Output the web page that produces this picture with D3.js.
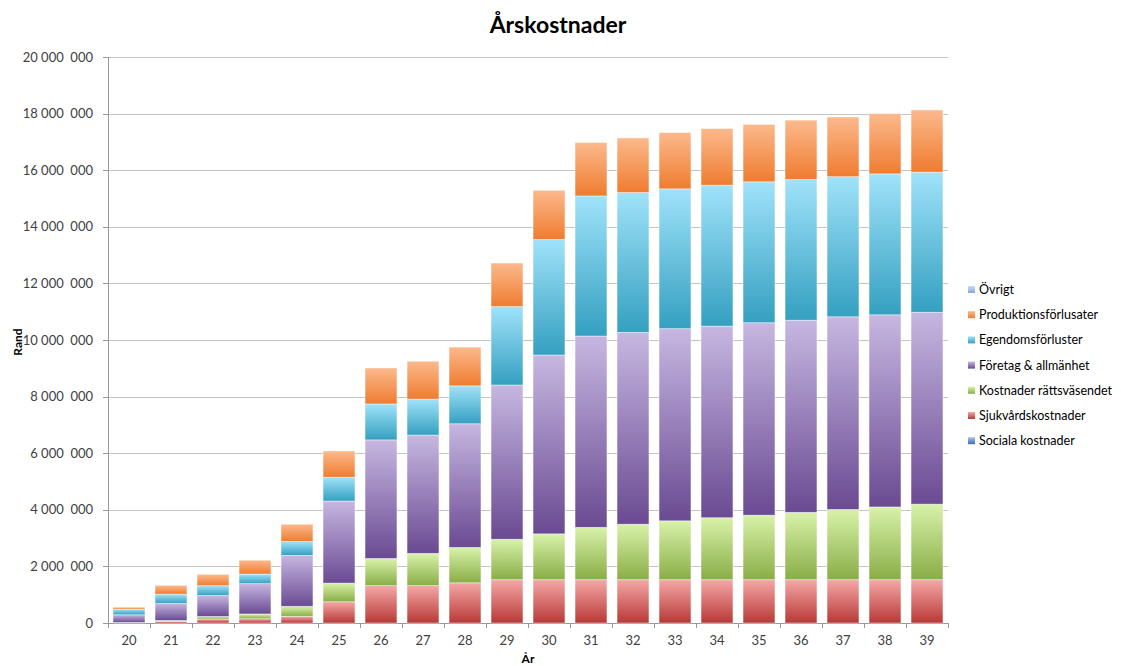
<!DOCTYPE html>
<html>
<head>
<meta charset="utf-8">
<script src="https://cdn.jsdelivr.net/npm/d3@7"></script>
<style>
  body { margin: 0; background: #fff; }
  svg { font-family: Lato, "Open Sans", sans-serif; }
</style>
</head>
<body>
<svg id="chart" width="1121" height="666"></svg>
<script>
// years on the x axis
var years = ["20","21","22","23","24","25","26","27","28","29","30","31","32","33","34","35","36","37","38","39"];

// series values (SEK)
var sociala    = [0,0,0,0,0,0,0,0,0,0,0,0,0,0,0,0,0,0,0,0];
var sjukvard   = [20000,60000,140000,150000,235000,750000,1320000,1320000,1420000,1530000,1530000,1530000,1530000,1530000,1530000,1530000,1530000,1530000,1530000,1530000];
var rattsvasen = [0,30000,90000,170000,355000,660000,960000,1140000,1250000,1430000,1620000,1850000,1960000,2080000,2190000,2280000,2380000,2480000,2570000,2670000];
var foretag    = [270000,600000,740000,1070000,1800000,2900000,4190000,4180000,4370000,5450000,6320000,6760000,6780000,6790000,6770000,6800000,6790000,6810000,6790000,6780000];
var egendom    = [200000,330000,350000,340000,490000,840000,1270000,1270000,1340000,2770000,4080000,4950000,4940000,4940000,4980000,4980000,4970000,4950000,4980000,4950000];
var produktion = [70000,310000,400000,490000,610000,930000,1270000,1340000,1370000,1540000,1740000,1890000,1930000,1990000,2000000,2030000,2100000,2110000,2130000,2200000];
var ovrigt     = [0,0,0,0,0,0,0,0,0,0,0,0,0,0,0,0,0,0,0,0];

var seriesNames = ["Sociala kostnader", "Sjukvårdskostnader", "Kostnader rättsväsendet",
                   "Företag & allmänhet", "Egendomsförluster", "Produktionsförlusater", "Övrigt"];
var seriesValues = [sociala, sjukvard, rattsvasen, foretag, egendom, produktion, ovrigt];

// gradient colours per series: [top, bottom]
var gradColors = [
    ["#a9c4ef", "#3d6db2"],
    ["#f5a8a6", "#b73936"],
    ["#d8f2a9", "#89ad46"],
    ["#c6b7e1", "#6a4a92"],
    ["#a0e2fa", "#34a0c0"],
    ["#fcb98c", "#ef7c30"],
    ["#cddcf5", "#86a8da"]
];

var yTicks = [0, 2e6, 4e6, 6e6, 8e6, 10e6, 12e6, 14e6, 16e6, 18e6, 20e6];

var svg = d3.select("#chart");
var marge = { top: 57, bottom: 43, left: 108, right: 173 };
var width = 1121, height = 666;

// build table for d3.stack
var table = years.map(function (y, i) {
    var row = { year: y };
    seriesNames.forEach(function (n, k) { row[n] = seriesValues[k][i]; });
    return row;
});
var stacked = d3.stack().keys(seriesNames)(table);

var x = d3.scaleBand()
    .domain(years)
    .range([marge.left, width - marge.right])
    .paddingInner(0.24)
    .paddingOuter(0.12);

var y = d3.scaleLinear()
    .domain([0, 20e6])
    .range([height - marge.bottom, marge.top]);

// gradients
var defs = svg.append("defs");
gradColors.forEach(function (c, k) {
    var gr = defs.append("linearGradient")
        .attr("id", "grad" + k)
        .attr("x1", 0).attr("y1", 0).attr("x2", 0).attr("y2", 1);
    gr.append("stop").attr("offset", "0%").attr("stop-color", c[0]);
    gr.append("stop").attr("offset", "100%").attr("stop-color", c[1]);
});

// title
svg.append("text")
    .attr("x", 558).attr("y", 33)
    .attr("text-anchor", "middle")
    .style("font-size", "23px").style("font-weight", "bold").style("fill", "#000")
    .text("Årskostnader");

// gridlines
svg.append("g").selectAll("line")
    .data(yTicks.slice(1))
    .enter().append("line")
    .attr("x1", marge.left).attr("x2", width - marge.right)
    .attr("y1", function (d) { return Math.round(y(d)) + 0.5; })
    .attr("y2", function (d) { return Math.round(y(d)) + 0.5; })
    .style("stroke", "#c4c4c4").style("stroke-width", "1px");

// y tick format "20 000  000"
function fmt(v) {
    if (v === 0) return "0";
    var s = d3.format(",")(v).split(",");
    var last = s.pop();
    return s.join("\u00a0") + "\u00a0\u00a0" + last;
}

var yAxis = svg.append("g");
yAxis.append("line")
    .attr("x1", marge.left + 0.5).attr("x2", marge.left + 0.5)
    .attr("y1", marge.top).attr("y2", height - marge.bottom)
    .style("stroke", "#999");
yAxis.selectAll(".tk")
    .data(yTicks)
    .enter().append("line")
    .attr("x1", marge.left - 5).attr("x2", marge.left)
    .attr("y1", function (d) { return Math.round(y(d)) + 0.5; })
    .attr("y2", function (d) { return Math.round(y(d)) + 0.5; })
    .style("stroke", "#999");
yAxis.selectAll("text")
    .data(yTicks)
    .enter().append("text")
    .attr("x", marge.left - 15)
    .attr("y", function (d) { return y(d) + 4.5; })
    .attr("text-anchor", "end")
    .style("font-size", "13px").style("fill", "#404040")
    .text(fmt);

// x axis
var xAxis = svg.append("g");
var x0 = x.range()[0];
xAxis.append("line")
    .attr("x1", marge.left).attr("x2", width - marge.right)
    .attr("y1", y(0) + 0.5).attr("y2", y(0) + 0.5)
    .style("stroke", "#999");
xAxis.selectAll(".tk")
    .data(d3.range(years.length + 1))
    .enter().append("line")
    .attr("x1", function (i) { return Math.round(x0 + i * x.step()) + 0.5; })
    .attr("x2", function (i) { return Math.round(x0 + i * x.step()) + 0.5; })
    .attr("y1", y(0)).attr("y2", y(0) + 5)
    .style("stroke", "#999");
xAxis.selectAll("text")
    .data(years)
    .enter().append("text")
    .attr("x", function (d) { return x(d) + x.bandwidth() / 2; })
    .attr("y", y(0) + 22)
    .attr("text-anchor", "middle")
    .style("font-size", "13px").style("fill", "#404040")
    .text(function (d) { return d; });

// bars
svg.append("g").selectAll("g")
    .data(stacked)
    .enter().append("g")
    .attr("fill", function (d, k) { return "url(#grad" + k + ")"; })
    .selectAll("rect")
    .data(function (d) { return d.filter(function (p) { return p[1] - p[0] > 0; }); })
    .enter().append("rect")
    .attr("x", function (p) { return x(p.data.year); })
    .attr("width", x.bandwidth())
    .attr("y", function (p) { return y(p[1]); })
    .attr("height", function (p) { return y(p[0]) - y(p[1]); })
    .style("stroke", "rgba(255,255,255,0.55)")
    .style("stroke-width", "0.8px");

// axis titles
svg.append("text")
    .attr("transform", "translate(22," + (y(10e6) + 2) + ") rotate(-90)")
    .attr("text-anchor", "middle")
    .style("font-size", "12px").style("font-weight", "bold").style("fill", "#000")
    .text("Rand");
svg.append("text")
    .attr("x", 528).attr("y", 663)
    .attr("text-anchor", "middle")
    .style("font-size", "12px").style("font-weight", "bold").style("fill", "#000")
    .text("År");

// legend, reversed order
var legend = svg.append("g").selectAll("g")
    .data(seriesNames.map(function (n, k) { return k; }).reverse())
    .enter().append("g")
    .attr("transform", function (k, i) { return "translate(968," + (290 + i * 25.2) + ")"; });
legend.append("rect")
    .attr("x", 0).attr("y", -4).attr("width", 7).attr("height", 7)
    .attr("fill", function (k) { return "url(#grad" + k + ")"; });
legend.append("text")
    .attr("x", 11).attr("y", 4)
    .style("font-size", "12.5px").style("fill", "#000")
    .text(function (k) { return seriesNames[k]; });
</script>
</body>
</html>
